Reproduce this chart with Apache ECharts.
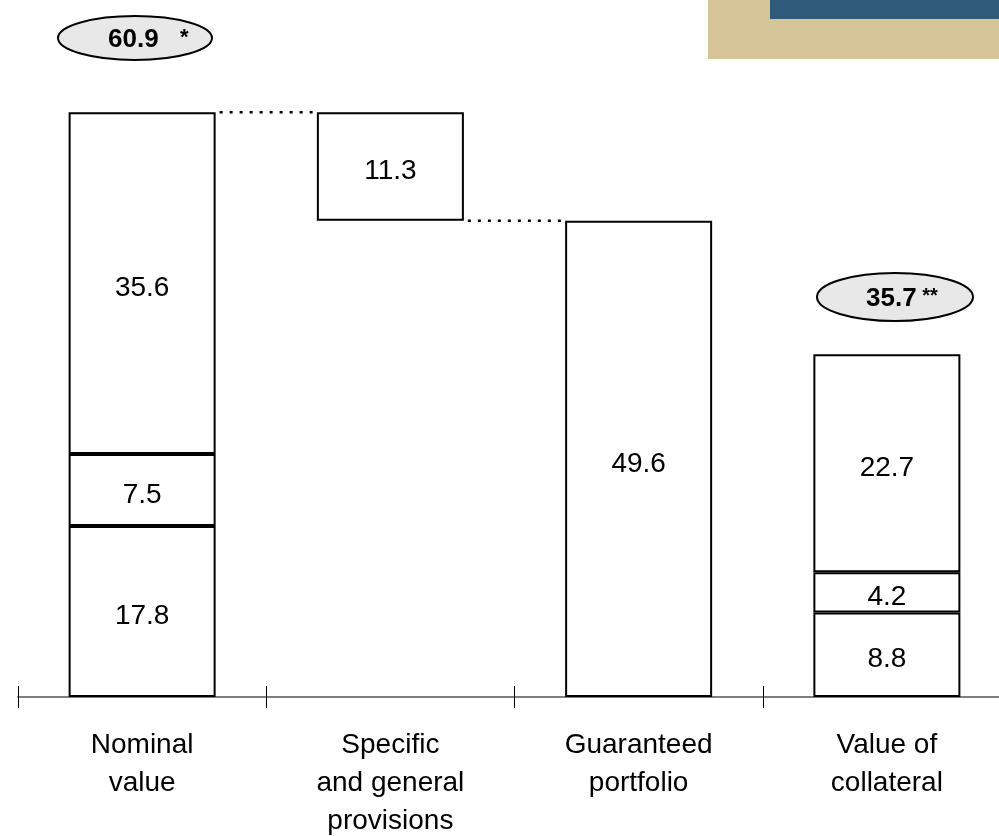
<!DOCTYPE html>
<html>
<head>
<meta charset="utf-8">
<script src="https://cdn.jsdelivr.net/npm/echarts@6/dist/echarts.min.js"></script>
<style>
    html, body { margin: 0; padding: 0; background: #fff; }
    #chart { width: 999px; height: 836px; }
</style>
</head>
<body>
<div id="chart"></div>
<script>
// Categories and values
const categories = ['Nominal\nvalue', 'Specific\nand general\nprovisions', 'Guaranteed\nportfolio', 'Value of\ncollateral'];
const baseValues = ['-', 49.6, '-', '-'];          // invisible offset for the provisions box
const lowerValues = [17.8, '-', '-', 8.8];
const middleValues = [7.5, '-', '-', 4.2];
const upperValues = [35.6, 11.3, 49.6, 22.7];
const connectors = [[0, 1, 60.9], [1, 2, 49.6]];   // [from category, to category, level]
const totalLabels = ['60.9', '35.7'];

const chart = echarts.init(document.getElementById('chart'));

const FONT = '"Liberation Sans", Arial, sans-serif';
const BAR_WIDTH = 147;

const boxStyle = { color: '#fff', borderColor: '#000', borderWidth: 2 };
const boxLabel = { show: true, position: 'inside', offset: [0, 5], color: '#000', fontSize: 28, fontFamily: FONT };

function segment(name, data) {
    return {
        name,
        type: 'bar',
        stack: 'total',
        data,
        barWidth: BAR_WIDTH,
        itemStyle: boxStyle,
        label: boxLabel,
        emphasis: { disabled: true }
    };
}

const option = {
    animation: false,
    grid: { left: 18, right: -12, top: 25, bottom: 139, outerBoundsMode: 'none', containLabel: false },
    xAxis: [
        {
            type: 'category',
            data: categories,
            boundaryGap: true,
            axisLine: { show: true, lineStyle: { color: '#7f7f7f', width: 2 } },
            axisTick: { show: true, length: 11, lineStyle: { color: '#000', width: 1 } },
            axisLabel: { color: '#000', fontSize: 28, fontFamily: FONT, lineHeight: 38, margin: 29, interval: 0 }
        },
        {
            // same axis again, only to draw the upper half of the crossing ticks
            type: 'category',
            data: categories,
            position: 'bottom',
            boundaryGap: true,
            axisLine: { show: false },
            axisTick: { show: true, inside: true, length: 11, lineStyle: { color: '#000', width: 1 } },
            axisLabel: { show: false }
        }
    ],
    yAxis: { type: 'value', min: 0, max: 70, show: false },
    series: [
        {
            name: 'base',
            type: 'bar',
            stack: 'total',
            data: baseValues,
            barWidth: BAR_WIDTH,
            itemStyle: { color: 'transparent', borderWidth: 0 },
            silent: true
        },
        segment('lower', lowerValues),
        segment('middle', middleValues),
        segment('upper', upperValues),
        {
            // Dotted connectors between bar edges
            type: 'custom',
            data: connectors,
            encode: { x: [0, 1], y: 2 },
            silent: true,
            renderItem: function (params, api) {
                const p0 = api.coord([api.value(0), api.value(2)]);
                const p1 = api.coord([api.value(1), api.value(2)]);
                const half = BAR_WIDTH / 2;
                return {
                    type: 'line',
                    shape: { x1: p0[0] + half + 4, y1: p0[1], x2: p1[0] - half - 2, y2: p1[1] },
                    style: { stroke: '#000', lineWidth: 2.5, lineDash: [3, 7] }
                };
            }
        }
    ],
    graphic: [
        { type: 'rect', shape: { x: 708, y: 0, width: 291, height: 59 }, style: { fill: '#d5c597' } },
        { type: 'rect', shape: { x: 770, y: 0, width: 229, height: 19 }, style: { fill: '#305a7a' } },
        {
            type: 'ellipse',
            shape: { cx: 135, cy: 38, rx: 77, ry: 22 },
            style: { fill: '#e8e8e8', stroke: '#000', lineWidth: 2 }
        },
        {
            type: 'text',
            left: 108, top: 27,
            style: {
                text: '{v|' + totalLabels[0] + '}{s|*}',
                rich: {
                    v: { fontSize: 26, fontWeight: 'bold', fontFamily: FONT, fill: '#000', width: 72 },
                    s: { fontSize: 22, fontWeight: 'bold', fontFamily: FONT, fill: '#000', verticalAlign: 'top' }
                }
            }
        },
        {
            type: 'ellipse',
            shape: { cx: 895, cy: 297, rx: 78, ry: 24 },
            style: { fill: '#e8e8e8', stroke: '#000', lineWidth: 2 }
        },
        {
            type: 'text',
            left: 866, top: 286,
            style: {
                text: '{v|' + totalLabels[1] + '}{s| **}',
                rich: {
                    v: { fontSize: 26, fontWeight: 'bold', fontFamily: FONT, fill: '#000' },
                    s: { fontSize: 20, fontWeight: 'bold', fontFamily: FONT, fill: '#000', verticalAlign: 'top' }
                }
            }
        }
    ]
};

chart.setOption(option);
</script>
</body>
</html>
